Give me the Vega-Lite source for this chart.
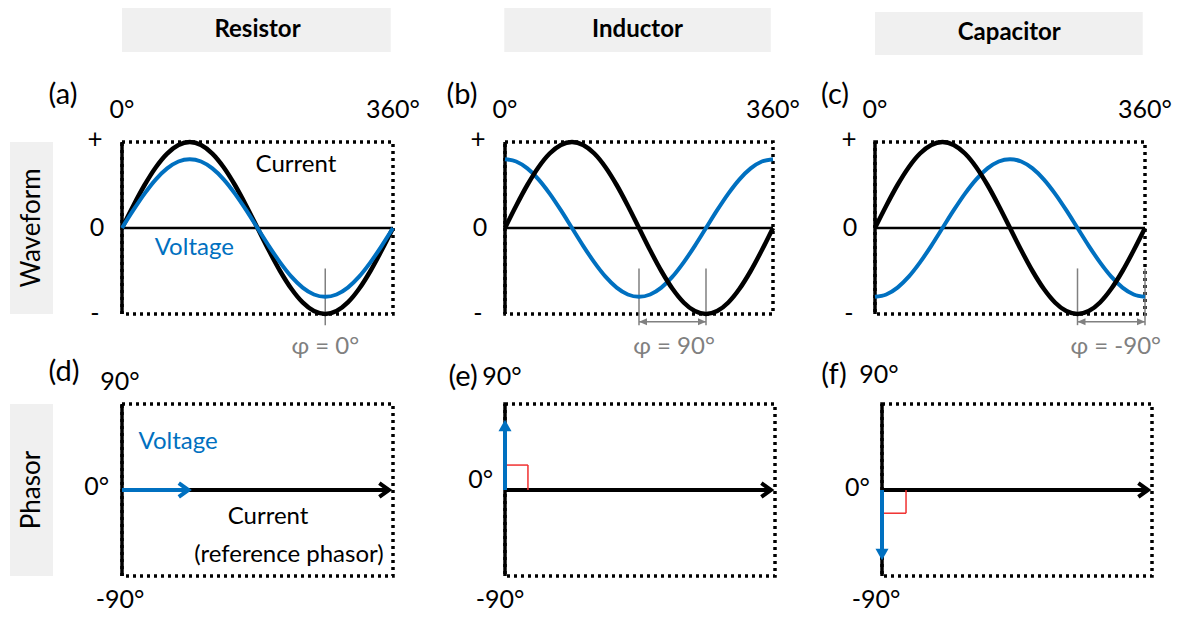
{
  "$schema": "https://vega.github.io/schema/vega-lite/v6.json",
  "padding": {"left": 10, "top": 8, "right": 0, "bottom": 0},
  "background": "white",
  "config": {
    "view": {"stroke": null},
    "axis": {"disable": true},
    "text": {"font": "Lato", "fontSize": 24, "color": "black"}
  },
  "datasets": {
    "resistor": [
      {"angle": 0, "current": 0, "voltage": 0},
      {"angle": 15, "current": 0.259, "voltage": 0.207},
      {"angle": 30, "current": 0.5, "voltage": 0.4},
      {"angle": 45, "current": 0.707, "voltage": 0.566},
      {"angle": 60, "current": 0.866, "voltage": 0.693},
      {"angle": 75, "current": 0.966, "voltage": 0.773},
      {"angle": 90, "current": 1, "voltage": 0.8},
      {"angle": 105, "current": 0.966, "voltage": 0.773},
      {"angle": 120, "current": 0.866, "voltage": 0.693},
      {"angle": 135, "current": 0.707, "voltage": 0.566},
      {"angle": 150, "current": 0.5, "voltage": 0.4},
      {"angle": 165, "current": 0.259, "voltage": 0.207},
      {"angle": 180, "current": 0, "voltage": 0},
      {"angle": 195, "current": -0.259, "voltage": -0.207},
      {"angle": 210, "current": -0.5, "voltage": -0.4},
      {"angle": 225, "current": -0.707, "voltage": -0.566},
      {"angle": 240, "current": -0.866, "voltage": -0.693},
      {"angle": 255, "current": -0.966, "voltage": -0.773},
      {"angle": 270, "current": -1, "voltage": -0.8},
      {"angle": 285, "current": -0.966, "voltage": -0.773},
      {"angle": 300, "current": -0.866, "voltage": -0.693},
      {"angle": 315, "current": -0.707, "voltage": -0.566},
      {"angle": 330, "current": -0.5, "voltage": -0.4},
      {"angle": 345, "current": -0.259, "voltage": -0.207},
      {"angle": 360, "current": 0, "voltage": 0}
    ],
    "inductor": [
      {"angle": 0, "current": 0, "voltage": 0.8},
      {"angle": 15, "current": 0.259, "voltage": 0.773},
      {"angle": 30, "current": 0.5, "voltage": 0.693},
      {"angle": 45, "current": 0.707, "voltage": 0.566},
      {"angle": 60, "current": 0.866, "voltage": 0.4},
      {"angle": 75, "current": 0.966, "voltage": 0.207},
      {"angle": 90, "current": 1, "voltage": 0},
      {"angle": 105, "current": 0.966, "voltage": -0.207},
      {"angle": 120, "current": 0.866, "voltage": -0.4},
      {"angle": 135, "current": 0.707, "voltage": -0.566},
      {"angle": 150, "current": 0.5, "voltage": -0.693},
      {"angle": 165, "current": 0.259, "voltage": -0.773},
      {"angle": 180, "current": 0, "voltage": -0.8},
      {"angle": 195, "current": -0.259, "voltage": -0.773},
      {"angle": 210, "current": -0.5, "voltage": -0.693},
      {"angle": 225, "current": -0.707, "voltage": -0.566},
      {"angle": 240, "current": -0.866, "voltage": -0.4},
      {"angle": 255, "current": -0.966, "voltage": -0.207},
      {"angle": 270, "current": -1, "voltage": 0},
      {"angle": 285, "current": -0.966, "voltage": 0.207},
      {"angle": 300, "current": -0.866, "voltage": 0.4},
      {"angle": 315, "current": -0.707, "voltage": 0.566},
      {"angle": 330, "current": -0.5, "voltage": 0.693},
      {"angle": 345, "current": -0.259, "voltage": 0.773},
      {"angle": 360, "current": 0, "voltage": 0.8}
    ],
    "capacitor": [
      {"angle": 0, "current": 0, "voltage": -0.8},
      {"angle": 15, "current": 0.259, "voltage": -0.773},
      {"angle": 30, "current": 0.5, "voltage": -0.693},
      {"angle": 45, "current": 0.707, "voltage": -0.566},
      {"angle": 60, "current": 0.866, "voltage": -0.4},
      {"angle": 75, "current": 0.966, "voltage": -0.207},
      {"angle": 90, "current": 1, "voltage": 0},
      {"angle": 105, "current": 0.966, "voltage": 0.207},
      {"angle": 120, "current": 0.866, "voltage": 0.4},
      {"angle": 135, "current": 0.707, "voltage": 0.566},
      {"angle": 150, "current": 0.5, "voltage": 0.693},
      {"angle": 165, "current": 0.259, "voltage": 0.773},
      {"angle": 180, "current": 0, "voltage": 0.8},
      {"angle": 195, "current": -0.259, "voltage": 0.773},
      {"angle": 210, "current": -0.5, "voltage": 0.693},
      {"angle": 225, "current": -0.707, "voltage": 0.566},
      {"angle": 240, "current": -0.866, "voltage": 0.4},
      {"angle": 255, "current": -0.966, "voltage": 0.207},
      {"angle": 270, "current": -1, "voltage": 0},
      {"angle": 285, "current": -0.966, "voltage": -0.207},
      {"angle": 300, "current": -0.866, "voltage": -0.4},
      {"angle": 315, "current": -0.707, "voltage": -0.566},
      {"angle": 330, "current": -0.5, "voltage": -0.693},
      {"angle": 345, "current": -0.259, "voltage": -0.773},
      {"angle": 360, "current": 0, "voltage": -0.8}
    ]
  },
  "columns": 4,
  "spacing": {"row": 90, "column": 69},
  "bounds": "flush",
  "concat": [
    {"width": 43, "height": 44, "data": {"values": []}, "mark": "point"},
    {
      "width": 271, "height": 44,
      "data": {"values": [{"label": "Resistor"}]},
      "layer": [
        {"mark": {"type": "rect", "color": "#f0f0f0"},
         "encoding": {"x": {"datum": 0, "type": "quantitative", "scale": {"domain": [0, 360], "nice": false, "zero": false}}, "x2": {"datum": 357},
                      "y": {"datum": 0, "type": "quantitative", "scale": {"domain": [0, 1], "nice": false, "zero": false}}, "y2": {"datum": 1}}},
        {"mark": {"type": "text", "fontWeight": "bold", "fontSize": 24},
         "encoding": {"x": {"datum": 180}, "y": {"datum": 0.5}, "text": {"field": "label"}}}
      ]
    },
    {
      "width": 313, "height": 44,
      "data": {"values": [{"label": "Inductor"}]},
      "layer": [
        {"mark": {"type": "rect", "color": "#f0f0f0"},
         "encoding": {"x": {"datum": -1, "type": "quantitative", "scale": {"domain": [-57.76, 362.69], "nice": false, "zero": false}}, "x2": {"datum": 357},
                      "y": {"datum": 0, "type": "quantitative", "scale": {"domain": [0, 1], "nice": false, "zero": false}}, "y2": {"datum": 1}}},
        {"mark": {"type": "text", "fontWeight": "bold", "fontSize": 24},
         "encoding": {"x": {"datum": 178}, "y": {"datum": 0.5}, "text": {"field": "label"}}}
      ]
    },
    {
      "width": 308, "height": 44,
      "data": {"values": [{"label": "Capacitor"}]},
      "layer": [
        {"mark": {"type": "rect", "color": "#f0f0f0"},
         "encoding": {"x": {"datum": 0, "type": "quantitative", "scale": {"domain": [-41.33, 369.33], "nice": false, "zero": false}}, "x2": {"datum": 357},
                      "y": {"datum": -0.07, "type": "quantitative", "scale": {"domain": [0, 1], "nice": false, "zero": false}}, "y2": {"datum": 0.91}}},
        {"mark": {"type": "text", "fontWeight": "bold", "fontSize": 24},
         "encoding": {"x": {"datum": 179}, "y": {"datum": 0.43}, "text": {"field": "label"}}}
      ]
    },

    {
      "width": 43, "height": 172,
      "view": {"fill": "#f0f0f0", "stroke": null},
      "data": {"values": [{"label": "Waveform"}]},
      "mark": {"type": "text", "angle": 270, "fontSize": 26},
      "encoding": {
        "x": {"datum": 0.5, "type": "quantitative", "scale": {"domain": [0, 1], "nice": false}},
        "y": {"datum": 0.5, "type": "quantitative", "scale": {"domain": [0, 1], "nice": false}},
        "text": {"field": "label"}
      }
    },
    {
      "width": 271, "height": 172,
      "data": {"values": [{}]},
      "layer": [
        {"mark": {"type": "rect", "filled": false, "stroke": "black", "strokeWidth": 3.5, "strokeDash": [3, 4]},
         "encoding": {"x": {"datum": 0, "type": "quantitative", "scale": {"domain": [0, 360], "nice": false, "zero": false}}, "x2": {"datum": 360},
                      "y": {"datum": -1, "type": "quantitative", "scale": {"domain": [-1, 1], "nice": false, "zero": false}}, "y2": {"datum": 1}}},
        {"mark": {"type": "rule", "color": "black", "strokeWidth": 2.5},
         "encoding": {"x": {"datum": 0}, "x2": {"datum": 360}, "y": {"datum": 0}}},
        {"mark": {"type": "rule", "color": "black", "strokeWidth": 3.5},
         "encoding": {"x": {"datum": 0}, "y": {"datum": -1}, "y2": {"datum": 1}}},
        {"mark": {"type": "rule", "color": "#808080", "strokeWidth": 1.5},
         "encoding": {"x": {"datum": 270}, "y": {"datum": -0.47}, "y2": {"datum": -1.13}}},
        {"data": {"name": "resistor"},
         "mark": {"type": "line", "color": "black", "strokeWidth": 4.5, "interpolate": "monotone"},
         "encoding": {"x": {"field": "angle", "type": "quantitative"}, "y": {"field": "current", "type": "quantitative"}}},
        {"data": {"name": "resistor"},
         "mark": {"type": "line", "color": "#0070C0", "strokeWidth": 4, "interpolate": "monotone"},
         "encoding": {"x": {"field": "angle", "type": "quantitative"}, "y": {"field": "voltage", "type": "quantitative"}}},
        {"mark": {"type": "text", "text": "+", "fontSize": 26, "dx": -27, "dy": -2},
         "encoding": {"x": {"datum": 0}, "y": {"datum": 1}}},
        {"mark": {"type": "text", "text": "0", "fontSize": 25, "dx": -25},
         "encoding": {"x": {"datum": 0}, "y": {"datum": 0}}},
        {"mark": {"type": "text", "text": "-", "fontSize": 25, "dx": -27},
         "encoding": {"x": {"datum": 0}, "y": {"datum": -1}}},
        {"mark": {"type": "text", "text": "0°", "fontSize": 25, "dy": -32},
         "encoding": {"x": {"datum": 0}, "y": {"datum": 1}}},
        {"mark": {"type": "text", "text": "360°", "fontSize": 25, "dy": -32},
         "encoding": {"x": {"datum": 360}, "y": {"datum": 1}}},
        {"mark": {"type": "text", "text": "(a)", "fontSize": 29, "dx": -59, "dy": -47},
         "encoding": {"x": {"datum": 0}, "y": {"datum": 1}}},
        {"mark": {"type": "text", "text": "φ = 0°", "fontSize": 24, "color": "#808080", "dy": 33},
         "encoding": {"x": {"datum": 270}, "y": {"datum": -1}}},
        {"mark": {"type": "text", "text": "Current", "fontSize": 24},
         "encoding": {"x": {"datum": 231}, "y": {"datum": 0.73}}},
        {"mark": {"type": "text", "text": "Voltage", "fontSize": 24, "color": "#0070C0"},
         "encoding": {"x": {"datum": 96}, "y": {"datum": -0.23}}}
      ]
    },
    {
      "width": 313, "height": 172,
      "data": {"values": [{}]},
      "layer": [
        {"mark": {"type": "rect", "filled": false, "stroke": "black", "strokeWidth": 3.5, "strokeDash": [3, 4]},
         "encoding": {"x": {"datum": 0, "type": "quantitative", "scale": {"domain": [-57.76, 362.69], "nice": false, "zero": false}}, "x2": {"datum": 360},
                      "y": {"datum": -1, "type": "quantitative", "scale": {"domain": [-1, 1], "nice": false, "zero": false}}, "y2": {"datum": 1}}},
        {"mark": {"type": "rule", "color": "black", "strokeWidth": 2.5},
         "encoding": {"x": {"datum": 0}, "x2": {"datum": 360}, "y": {"datum": 0}}},
        {"mark": {"type": "rule", "color": "black", "strokeWidth": 3.5},
         "encoding": {"x": {"datum": 0}, "y": {"datum": -1}, "y2": {"datum": 1}}},
        {"data": {"values": [{"phase": 180}, {"phase": 270}]},
         "mark": {"type": "rule", "color": "#808080", "strokeWidth": 1.5},
         "encoding": {"x": {"field": "phase", "type": "quantitative"}, "y": {"datum": -0.47}, "y2": {"datum": -1.13}}},
        {"mark": {"type": "rule", "color": "#808080", "strokeWidth": 1.5},
         "encoding": {"x": {"datum": 180}, "x2": {"datum": 270}, "y": {"datum": -1.09}}},
        {"mark": {"type": "point", "shape": "M 0 0 L 2 -0.9 L 2 0.9 Z", "size": 64, "filled": true, "color": "#808080", "opacity": 1},
         "encoding": {"x": {"datum": 180}, "y": {"datum": -1.09}}},
        {"mark": {"type": "point", "shape": "M 0 0 L -2 -0.9 L -2 0.9 Z", "size": 64, "filled": true, "color": "#808080", "opacity": 1},
         "encoding": {"x": {"datum": 270}, "y": {"datum": -1.09}}},
        {"data": {"name": "inductor"},
         "mark": {"type": "line", "color": "#0070C0", "strokeWidth": 4, "interpolate": "monotone"},
         "encoding": {"x": {"field": "angle", "type": "quantitative"}, "y": {"field": "voltage", "type": "quantitative"}}},
        {"data": {"name": "inductor"},
         "mark": {"type": "line", "color": "black", "strokeWidth": 4.5, "interpolate": "monotone"},
         "encoding": {"x": {"field": "angle", "type": "quantitative"}, "y": {"field": "current", "type": "quantitative"}}},
        {"mark": {"type": "text", "text": "+", "fontSize": 26, "dx": -27, "dy": -2},
         "encoding": {"x": {"datum": 0}, "y": {"datum": 1}}},
        {"mark": {"type": "text", "text": "0", "fontSize": 25, "dx": -25},
         "encoding": {"x": {"datum": 0}, "y": {"datum": 0}}},
        {"mark": {"type": "text", "text": "-", "fontSize": 25, "dx": -27},
         "encoding": {"x": {"datum": 0}, "y": {"datum": -1}}},
        {"mark": {"type": "text", "text": "0°", "fontSize": 25, "dy": -32},
         "encoding": {"x": {"datum": 0}, "y": {"datum": 1}}},
        {"mark": {"type": "text", "text": "360°", "fontSize": 25, "dy": -32},
         "encoding": {"x": {"datum": 360}, "y": {"datum": 1}}},
        {"mark": {"type": "text", "text": "(b)", "fontSize": 29, "dx": -43, "dy": -47},
         "encoding": {"x": {"datum": 0}, "y": {"datum": 1}}},
        {"mark": {"type": "text", "text": "φ = 90°", "fontSize": 24, "color": "#808080", "dy": 33},
         "encoding": {"x": {"datum": 227}, "y": {"datum": -1}}}
      ]
    },
    {
      "width": 308, "height": 172,
      "data": {"values": [{}]},
      "layer": [
        {"mark": {"type": "rect", "filled": false, "stroke": "black", "strokeWidth": 3.5, "strokeDash": [3, 4]},
         "encoding": {"x": {"datum": 0, "type": "quantitative", "scale": {"domain": [-41.33, 369.33], "nice": false, "zero": false}}, "x2": {"datum": 360},
                      "y": {"datum": -1, "type": "quantitative", "scale": {"domain": [-1, 1], "nice": false, "zero": false}}, "y2": {"datum": 1}}},
        {"mark": {"type": "rule", "color": "black", "strokeWidth": 2.5},
         "encoding": {"x": {"datum": 0}, "x2": {"datum": 360}, "y": {"datum": 0}}},
        {"mark": {"type": "rule", "color": "black", "strokeWidth": 3.5},
         "encoding": {"x": {"datum": 0}, "y": {"datum": -1}, "y2": {"datum": 1}}},
        {"data": {"values": [{"phase": 270}, {"phase": 360}]},
         "mark": {"type": "rule", "color": "#808080", "strokeWidth": 1.5},
         "encoding": {"x": {"field": "phase", "type": "quantitative"}, "y": {"datum": -0.47}, "y2": {"datum": -1.13}}},
        {"mark": {"type": "rule", "color": "#808080", "strokeWidth": 1.5},
         "encoding": {"x": {"datum": 270}, "x2": {"datum": 360}, "y": {"datum": -1.09}}},
        {"mark": {"type": "point", "shape": "M 0 0 L 2 -0.9 L 2 0.9 Z", "size": 64, "filled": true, "color": "#808080", "opacity": 1},
         "encoding": {"x": {"datum": 270}, "y": {"datum": -1.09}}},
        {"mark": {"type": "point", "shape": "M 0 0 L -2 -0.9 L -2 0.9 Z", "size": 64, "filled": true, "color": "#808080", "opacity": 1},
         "encoding": {"x": {"datum": 360}, "y": {"datum": -1.09}}},
        {"data": {"name": "capacitor"},
         "mark": {"type": "line", "color": "#0070C0", "strokeWidth": 4, "interpolate": "monotone"},
         "encoding": {"x": {"field": "angle", "type": "quantitative"}, "y": {"field": "voltage", "type": "quantitative"}}},
        {"data": {"name": "capacitor"},
         "mark": {"type": "line", "color": "black", "strokeWidth": 4.5, "interpolate": "monotone"},
         "encoding": {"x": {"field": "angle", "type": "quantitative"}, "y": {"field": "current", "type": "quantitative"}}},
        {"mark": {"type": "text", "text": "+", "fontSize": 26, "dx": -26, "dy": -2},
         "encoding": {"x": {"datum": 0}, "y": {"datum": 1}}},
        {"mark": {"type": "text", "text": "0", "fontSize": 25, "dx": -25},
         "encoding": {"x": {"datum": 0}, "y": {"datum": 0}}},
        {"mark": {"type": "text", "text": "-", "fontSize": 25, "dx": -26},
         "encoding": {"x": {"datum": 0}, "y": {"datum": -1}}},
        {"mark": {"type": "text", "text": "0°", "fontSize": 25, "dy": -32},
         "encoding": {"x": {"datum": 0}, "y": {"datum": 1}}},
        {"mark": {"type": "text", "text": "360°", "fontSize": 25, "dy": -32},
         "encoding": {"x": {"datum": 360}, "y": {"datum": 1}}},
        {"mark": {"type": "text", "text": "(c)", "fontSize": 29, "dx": -40, "dy": -47},
         "encoding": {"x": {"datum": 0}, "y": {"datum": 1}}},
        {"mark": {"type": "text", "text": "φ = -90°", "fontSize": 24, "color": "#808080", "dy": 33},
         "encoding": {"x": {"datum": 321}, "y": {"datum": -1}}}
      ]
    },

    {
      "width": 43, "height": 172,
      "view": {"fill": "#f0f0f0", "stroke": null},
      "data": {"values": [{"label": "Phasor"}]},
      "mark": {"type": "text", "angle": 270, "fontSize": 26},
      "encoding": {
        "x": {"datum": 0.5, "type": "quantitative", "scale": {"domain": [0, 1], "nice": false}},
        "y": {"datum": 0.5, "type": "quantitative", "scale": {"domain": [0, 1], "nice": false}},
        "text": {"field": "label"}
      }
    },
    {
      "width": 271, "height": 172,
      "data": {"values": [{}]},
      "layer": [
        {"mark": {"type": "rect", "filled": false, "stroke": "black", "strokeWidth": 3.5, "strokeDash": [3, 4]},
         "encoding": {"x": {"datum": 0, "type": "quantitative", "scale": {"domain": [0, 1], "nice": false, "zero": false}}, "x2": {"datum": 1},
                      "y": {"datum": -1, "type": "quantitative", "scale": {"domain": [-1, 1], "nice": false, "zero": false}}, "y2": {"datum": 1}}},
        {"mark": {"type": "rule", "color": "black", "strokeWidth": 3.5},
         "encoding": {"x": {"datum": 0}, "y": {"datum": -1}, "y2": {"datum": 1}}},
        {"mark": {"type": "rule", "color": "black", "strokeWidth": 4},
         "encoding": {"x": {"datum": 0}, "x2": {"datum": 0.985}, "y": {"datum": 0}}},
        {"mark": {"type": "point", "shape": "M -1.2 -0.85 L 0 0 L -1.2 0.85", "size": 256, "filled": false, "stroke": "black", "strokeWidth": 4, "opacity": 1},
         "encoding": {"x": {"datum": 0.985}, "y": {"datum": 0}}},
        {"mark": {"type": "rule", "color": "#0070C0", "strokeWidth": 4},
         "encoding": {"x": {"datum": 0}, "x2": {"datum": 0.245}, "y": {"datum": 0}}},
        {"mark": {"type": "point", "shape": "M -1.2 -0.85 L 0 0 L -1.2 0.85", "size": 256, "filled": false, "stroke": "#0070C0", "strokeWidth": 4, "opacity": 1},
         "encoding": {"x": {"datum": 0.245}, "y": {"datum": 0}}},
        {"mark": {"type": "text", "text": "90°", "fontSize": 25, "dx": -2, "dy": -22},
         "encoding": {"x": {"datum": 0}, "y": {"datum": 1}}},
        {"mark": {"type": "text", "text": "0°", "fontSize": 25, "align": "right", "dx": -13, "dy": -3},
         "encoding": {"x": {"datum": 0}, "y": {"datum": 0}}},
        {"mark": {"type": "text", "text": "-90°", "fontSize": 25, "dx": -2, "dy": 24},
         "encoding": {"x": {"datum": 0}, "y": {"datum": -1}}},
        {"mark": {"type": "text", "text": "(d)", "fontSize": 29, "dx": -58, "dy": -32},
         "encoding": {"x": {"datum": 0}, "y": {"datum": 1}}},
        {"mark": {"type": "text", "text": "Voltage", "fontSize": 24, "color": "#0070C0"},
         "encoding": {"x": {"datum": 0.207}, "y": {"datum": 0.56}}},
        {"mark": {"type": "text", "text": "Current", "fontSize": 24},
         "encoding": {"x": {"datum": 0.539}, "y": {"datum": -0.31}}},
        {"mark": {"type": "text", "text": "(reference phasor)", "fontSize": 24},
         "encoding": {"x": {"datum": 0.616}, "y": {"datum": -0.756}}}
      ]
    },
    {
      "width": 313, "height": 172,
      "data": {"values": [{}]},
      "layer": [
        {"mark": {"type": "rect", "filled": false, "stroke": "black", "strokeWidth": 3.5, "strokeDash": [3, 4]},
         "encoding": {"x": {"datum": 0, "type": "quantitative", "scale": {"domain": [-0.15926, 1], "nice": false, "zero": false}}, "x2": {"datum": 1},
                      "y": {"datum": -1, "type": "quantitative", "scale": {"domain": [-1, 1], "nice": false, "zero": false}}, "y2": {"datum": 1}}},
        {"mark": {"type": "rule", "color": "black", "strokeWidth": 3.5},
         "encoding": {"x": {"datum": 0}, "y": {"datum": -1}, "y2": {"datum": 1}}},
        {"mark": {"type": "rule", "color": "black", "strokeWidth": 4},
         "encoding": {"x": {"datum": 0}, "x2": {"datum": 0.985}, "y": {"datum": 0}}},
        {"mark": {"type": "point", "shape": "M -1.2 -0.85 L 0 0 L -1.2 0.85", "size": 256, "filled": false, "stroke": "black", "strokeWidth": 4, "opacity": 1},
         "encoding": {"x": {"datum": 0.985}, "y": {"datum": 0}}},
        {"mark": {"type": "rule", "color": "#f03030", "strokeWidth": 1.5},
         "encoding": {"x": {"datum": 0}, "x2": {"datum": 0.085}, "y": {"datum": 0.29}}},
        {"mark": {"type": "rule", "color": "#f03030", "strokeWidth": 1.5},
         "encoding": {"x": {"datum": 0.085}, "y": {"datum": 0}, "y2": {"datum": 0.29}}},
        {"mark": {"type": "rule", "color": "#0070C0", "strokeWidth": 4},
         "encoding": {"x": {"datum": 0}, "y": {"datum": 0}, "y2": {"datum": 0.72}}},
        {"mark": {"type": "point", "shape": "triangle-up", "size": 170, "filled": true, "color": "#0070C0", "opacity": 1},
         "encoding": {"x": {"datum": 0}, "y": {"datum": 0.75}}},
        {"mark": {"type": "text", "text": "90°", "fontSize": 25, "dx": -3, "dy": -27},
         "encoding": {"x": {"datum": 0}, "y": {"datum": 1}}},
        {"mark": {"type": "text", "text": "0°", "fontSize": 25, "align": "right", "dx": -12, "dy": -10},
         "encoding": {"x": {"datum": 0}, "y": {"datum": 0}}},
        {"mark": {"type": "text", "text": "-90°", "fontSize": 25, "dx": -5, "dy": 24},
         "encoding": {"x": {"datum": 0}, "y": {"datum": -1}}},
        {"mark": {"type": "text", "text": "(e)", "fontSize": 29, "dx": -42, "dy": -27},
         "encoding": {"x": {"datum": 0}, "y": {"datum": 1}}}
      ]
    },
    {
      "width": 308, "height": 172,
      "data": {"values": [{}]},
      "layer": [
        {"mark": {"type": "rect", "filled": false, "stroke": "black", "strokeWidth": 3.5, "strokeDash": [3, 4]},
         "encoding": {"x": {"datum": 0, "type": "quantitative", "scale": {"domain": [-0.14074, 1], "nice": false, "zero": false}}, "x2": {"datum": 1},
                      "y": {"datum": -1, "type": "quantitative", "scale": {"domain": [-1, 1], "nice": false, "zero": false}}, "y2": {"datum": 1}}},
        {"mark": {"type": "rule", "color": "black", "strokeWidth": 3.5},
         "encoding": {"x": {"datum": 0}, "y": {"datum": -1}, "y2": {"datum": 1}}},
        {"mark": {"type": "rule", "color": "black", "strokeWidth": 4},
         "encoding": {"x": {"datum": 0}, "x2": {"datum": 0.985}, "y": {"datum": 0}}},
        {"mark": {"type": "point", "shape": "M -1.2 -0.85 L 0 0 L -1.2 0.85", "size": 256, "filled": false, "stroke": "black", "strokeWidth": 4, "opacity": 1},
         "encoding": {"x": {"datum": 0.985}, "y": {"datum": 0}}},
        {"mark": {"type": "rule", "color": "#f03030", "strokeWidth": 1.5},
         "encoding": {"x": {"datum": 0}, "x2": {"datum": 0.089}, "y": {"datum": -0.27}}},
        {"mark": {"type": "rule", "color": "#f03030", "strokeWidth": 1.5},
         "encoding": {"x": {"datum": 0.089}, "y": {"datum": 0}, "y2": {"datum": -0.27}}},
        {"mark": {"type": "rule", "color": "#0070C0", "strokeWidth": 4},
         "encoding": {"x": {"datum": 0}, "y": {"datum": 0}, "y2": {"datum": -0.72}}},
        {"mark": {"type": "point", "shape": "triangle-down", "size": 170, "filled": true, "color": "#0070C0", "opacity": 1},
         "encoding": {"x": {"datum": 0}, "y": {"datum": -0.75}}},
        {"mark": {"type": "text", "text": "90°", "fontSize": 25, "dx": -3, "dy": -29},
         "encoding": {"x": {"datum": 0}, "y": {"datum": 1}}},
        {"mark": {"type": "text", "text": "0°", "fontSize": 25, "align": "right", "dx": -12, "dy": -2},
         "encoding": {"x": {"datum": 0}, "y": {"datum": 0}}},
        {"mark": {"type": "text", "text": "-90°", "fontSize": 25, "dx": -6, "dy": 24},
         "encoding": {"x": {"datum": 0}, "y": {"datum": -1}}},
        {"mark": {"type": "text", "text": "(f)", "fontSize": 29, "dx": -48, "dy": -29},
         "encoding": {"x": {"datum": 0}, "y": {"datum": 1}}}
      ]
    }
  ]
}
